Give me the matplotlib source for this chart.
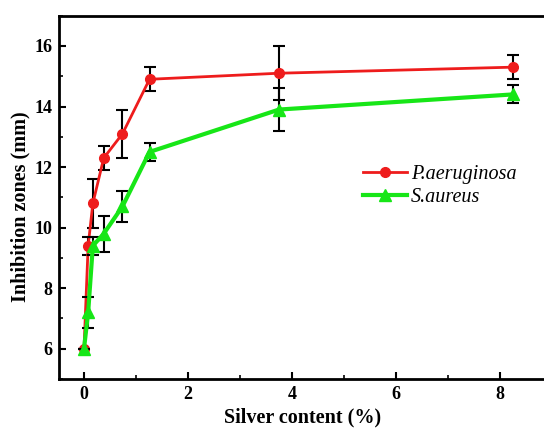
import numpy as np
import matplotlib
matplotlib.use('Agg')
import matplotlib.pyplot as plt
from matplotlib.ticker import MultipleLocator

# Data
silver = [0, 0.08, 0.17, 0.38, 0.74, 1.26, 3.75, 8.25]
pa_zone = [6.0, 9.4, 10.8, 12.3, 13.1, 14.9, 15.1, 15.3]
pa_err = [0.0, 0.3, 0.8, 0.4, 0.8, 0.4, 0.9, 0.4]
sa_zone = [6.0, 7.2, 9.4, 9.8, 10.7, 12.5, 13.9, 14.4]
sa_err = [0.0, 0.5, 0.3, 0.6, 0.5, 0.3, 0.7, 0.3]

plt.rcParams['font.family'] = ['Liberation Serif', 'DejaVu Serif']

fig = plt.figure(figsize=(5.44, 4.30), dpi=100)
# right edge of the frame sits just outside the picture, as in the reference
x0_px, px_per_unit = 84, 52
left_px, right_px = 59, 547
ax = fig.add_axes([left_px/544, 51/430, (right_px-left_px)/544, (379-15.7)/430])

ax.errorbar(silver, pa_zone, yerr=pa_err, color='#ee1c1c', lw=2, marker='o', ms=7,
            ecolor='black', elinewidth=1.5, capsize=4, capthick=1.5, label='P.aeruginosa', zorder=3)
ax.errorbar(silver, sa_zone, yerr=sa_err, color='#17e617', lw=3, marker='^', ms=8,
            ecolor='black', elinewidth=1.5, capsize=4, capthick=1.5, label='S.aureus', zorder=4)

ax.set_xlim((left_px - x0_px) / px_per_unit, (right_px - x0_px) / px_per_unit)
ax.set_ylim(5, 17)
ax.xaxis.set_major_locator(MultipleLocator(2))
ax.xaxis.set_minor_locator(MultipleLocator(1))
ax.yaxis.set_major_locator(MultipleLocator(2))
ax.yaxis.set_minor_locator(MultipleLocator(1))
ax.tick_params(which='major', direction='in', length=5, width=1.5, labelsize=13, pad=5)
ax.tick_params(which='minor', direction='in', length=3, width=1.2)
ax.tick_params(top=False, right=False, which='both')
for lab in ax.get_xticklabels() + ax.get_yticklabels():
    lab.set_fontweight('bold')
for sp in ax.spines.values():
    sp.set_linewidth(2)

ax.set_xlabel('Silver content (%)', fontsize=14.5, fontweight='bold', labelpad=3)
ax.set_ylabel('Inhibition zones (mm)', fontsize=14.5, fontweight='bold', labelpad=6)
ax.yaxis.set_label_coords(-0.058, 0.475)

handles, labels = ax.get_legend_handles_labels()
handles = [h[0] for h in handles]
leg = ax.legend(handles, labels, loc='upper left', bbox_to_anchor=(0.585, 0.64), frameon=False,
                prop={'style': 'italic', 'size': 14.5}, handlelength=2.2, handletextpad=0.2,
                labelspacing=0.2)

fig.savefig('out.png', dpi=100)
